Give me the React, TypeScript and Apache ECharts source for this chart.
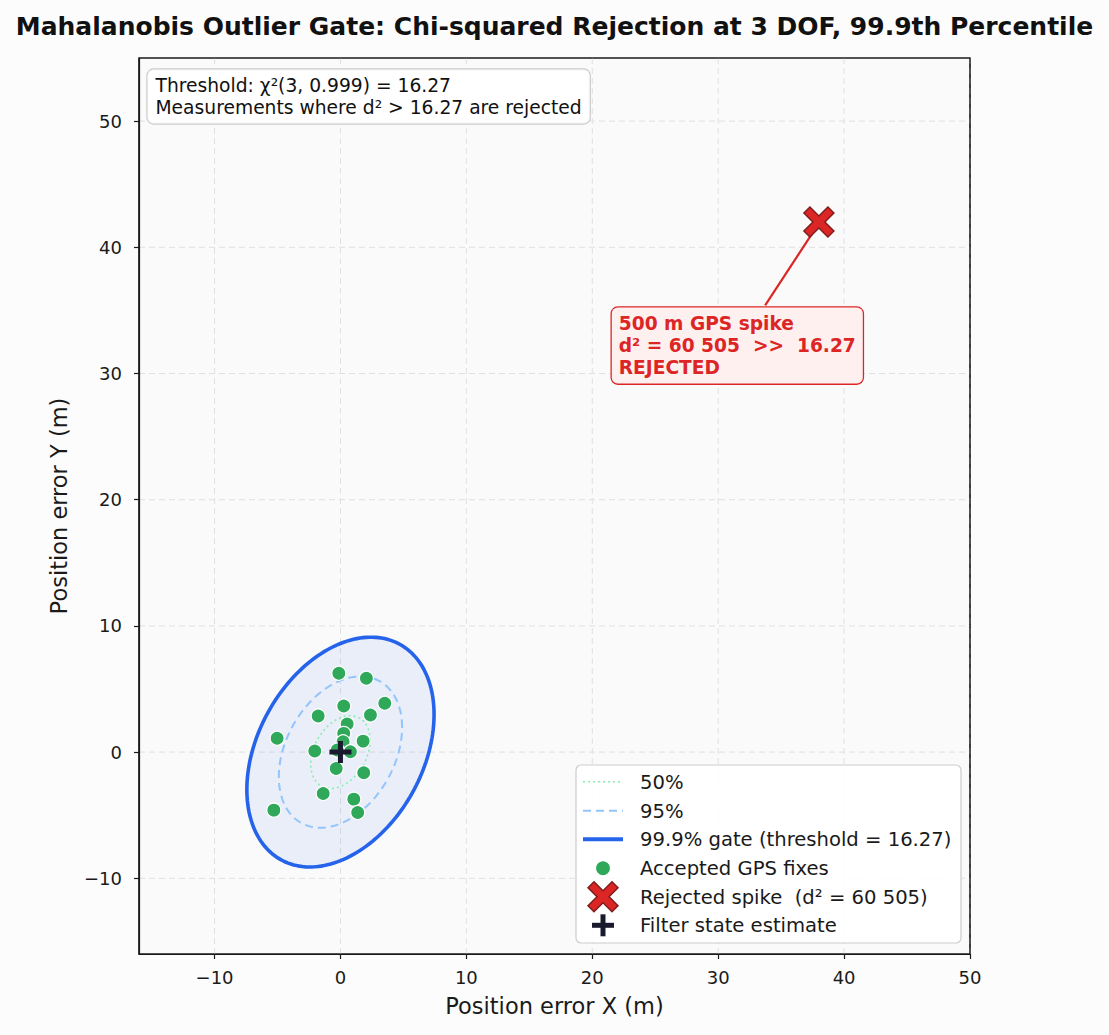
import React, { useEffect, useRef } from "react";
import * as echarts from "echarts";

const FONT = "DejaVu Sans";

const X_MIN = -16;
const X_MAX = 50;
const Y_MIN = -16;
const Y_MAX = 55;
const X_TICKS = [-10, 0, 10, 20, 30, 40, 50];
const Y_TICKS = [-10, 0, 10, 20, 30, 40, 50];

const ACCEPTED_X = [-0.13, 2.06, 3.52, 0.26, -1.77, 2.38, 0.53, -5.03, 0.26, 0.21, 1.8, -2.04, 0.79, -0.26, -0.34, 1.85, -1.37, 1.06, 1.37, -5.29];
const ACCEPTED_Y = [6.25, 5.85, 3.87, 3.65, 2.86, 2.94, 2.22, 1.09, 1.48, 0.82, 0.87, 0.08, 0.03, 0.16, -1.3, -1.64, -3.28, -3.73, -4.79, -4.6];

const SPIKE = [38, 42];
const STATE = [0, 0];

// position covariance of the filter (m^2)
const COV = [
  [4.0, 1.6],
  [1.6, 6.0],
];
// squared-distance levels used for the drawn contours: 50 %, 95 %, 99.9 %
const CONTOUR_LEVELS = [1.386, 5.991, 13.816];
const CONTOUR_NAMES = ["50%", "95%", "99.9% gate (threshold = 16.27)"];

const ARROW_FROM = [33.73, 35.4];
const ARROW_TO = [37.6, 41.3];
const ANNOT_ANCHOR = [21.55, 29.2];

const fmt = (v: number) => (v < 0 ? "\u2212" + Math.abs(v) : String(v));

function ellipsePoints(k: number): number[][] {
  const l11 = Math.sqrt(COV[0][0]);
  const l21 = COV[1][0] / l11;
  const l22 = Math.sqrt(COV[1][1] - l21 * l21);
  const s = Math.sqrt(k);
  const pts: number[][] = [];
  const n = 180;
  for (let i = 0; i <= n; i++) {
    const t = (i / n) * Math.PI * 2;
    const c = Math.cos(t);
    const sn = Math.sin(t);
    pts.push([STATE[0] + s * l11 * c, STATE[1] + s * (l21 * c + l22 * sn)]);
  }
  return pts;
}

const CONTOUR_STYLES = [
  { stroke: "#86efac", lineWidth: 1.6, lineDash: [2, 3], fill: "none" },
  { stroke: "#93c5fd", lineWidth: 2, lineDash: [8, 5], fill: "none" },
  { stroke: "#2563eb", lineWidth: 3.6, lineDash: null, fill: "rgba(37,99,235,0.08)" },
];

const X_PATH = "path://M0,2L2,0L5,3L8,0L10,2L7,5L10,8L8,10L5,7L2,10L0,8L3,5Z";
const PLUS_PATH = "path://M8.5,0H13.5V8.5H22V13.5H13.5V22H8.5V13.5H0V8.5H8.5Z";

export default function App() {
  const ref = useRef<HTMLDivElement>(null);

  useEffect(() => {
    document.body.style.margin = "0";
    const chart = echarts.init(ref.current!, null, { renderer: "svg" });

    const option: any = {
      animation: false,
      backgroundColor: "#fcfcfc",
      textStyle: { fontFamily: FONT },
      grid: {
        left: 139,
        right: 139,
        top: 58,
        bottom: 81,
        show: true,
        backgroundColor: "#fafafa",
        borderColor: "#1a1a1a",
        borderWidth: 1.2,
      },
      xAxis: {
        type: "value",
        min: X_MIN,
        max: X_MAX,
        splitLine: { show: false },
        axisLine: { show: true, onZero: false, lineStyle: { color: "#1a1a1a", width: 1.2 } },
        axisTick: { show: true, length: 5, customValues: X_TICKS, lineStyle: { color: "#1a1a1a", width: 1.2 } },
        axisLabel: { customValues: X_TICKS, formatter: fmt, fontSize: 18, color: "#1a1a1a", margin: 14, fontFamily: FONT },
      },
      yAxis: {
        type: "value",
        min: Y_MIN,
        max: Y_MAX,
        splitLine: { show: false },
        axisLine: { show: true, onZero: false, lineStyle: { color: "#1a1a1a", width: 1.2 } },
        axisTick: { show: true, length: 5, customValues: Y_TICKS, lineStyle: { color: "#1a1a1a", width: 1.2 } },
        axisLabel: { customValues: Y_TICKS, formatter: fmt, fontSize: 18, color: "#1a1a1a", margin: 17, fontFamily: FONT },
      },
      series: [
        {
          type: "custom",
          name: "xgrid",
          silent: true,
          z: 0,
          data: X_TICKS.map((v) => [v, 0]),
          renderItem: (params: any, api: any) => {
            const v = api.value(0);
            const a = api.coord([v, Y_MIN]);
            const b = api.coord([v, Y_MAX]);
            return {
              type: "line",
              shape: { x1: a[0], y1: a[1], x2: b[0], y2: b[1] },
              style: { stroke: "#e0e0e0", lineWidth: 1, lineDash: [6, 4] },
            };
          },
        },
        {
          type: "custom",
          name: "ygrid",
          silent: true,
          z: 0,
          data: Y_TICKS.map((v) => [0, v]),
          renderItem: (params: any, api: any) => {
            const v = api.value(1);
            const a = api.coord([X_MIN, v]);
            const b = api.coord([X_MAX, v]);
            return {
              type: "line",
              shape: { x1: a[0], y1: a[1], x2: b[0], y2: b[1] },
              style: { stroke: "#e0e0e0", lineWidth: 1, lineDash: [6, 4] },
            };
          },
        },
        {
          type: "custom",
          name: "contours",
          silent: true,
          z: 1,
          clip: true,
          data: [2, 1, 0].map((i) => [STATE[0], STATE[1], i]),
          renderItem: (params: any, api: any) => {
            const i = api.value(2);
            const pts = ellipsePoints(CONTOUR_LEVELS[i]).map((p) => api.coord(p));
            const st: any = CONTOUR_STYLES[i];
            return {
              type: "polygon",
              shape: { points: pts },
              style: {
                fill: st.fill === "none" ? null : st.fill,
                stroke: st.stroke,
                lineWidth: st.lineWidth,
                lineDash: st.lineDash || undefined,
              },
            };
          },
        },
        {
          type: "scatter",
          name: "Accepted GPS fixes",
          z: 3,
          symbol: "circle",
          symbolSize: 14,
          itemStyle: { color: "#2fa85a", borderColor: "#ffffff", borderWidth: 1.2, opacity: 1 },
          data: ACCEPTED_X.map((x, i) => [x, ACCEPTED_Y[i]]),
        },
        {
          type: "line",
          name: "arrow",
          z: 4,
          silent: true,
          symbol: "none",
          lineStyle: { color: "#dc2626", width: 2.2 },
          data: [ARROW_FROM, ARROW_TO],
        },
        {
          type: "scatter",
          name: "Rejected spike",
          z: 5,
          symbol: X_PATH,
          symbolSize: 30,
          itemStyle: { color: "#dc2626", borderColor: "#7f1d1d", borderWidth: 1.5, opacity: 1 },
          data: [SPIKE],
        },
        {
          type: "scatter",
          name: "Filter state estimate",
          z: 6,
          symbol: PLUS_PATH,
          symbolSize: 22,
          itemStyle: { color: "#1a1a2e", opacity: 1 },
          data: [STATE],
        },
      ],
    };

    chart.setOption(option);

    const anchor = chart.convertToPixel({ gridIndex: 0 }, ANNOT_ANCHOR) as number[];
    const tl = chart.convertToPixel({ gridIndex: 0 }, [X_MIN, Y_MAX]) as number[];
    const br = chart.convertToPixel({ gridIndex: 0 }, [X_MAX, Y_MIN]) as number[];

    const legendX = 576;
    const legendY = 765;
    const rowY = [781.7, 810.7, 839.3, 868.3, 896.7, 925.3];
    const legendLabels = [
      CONTOUR_NAMES[0],
      CONTOUR_NAMES[1],
      CONTOUR_NAMES[2],
      "Accepted GPS fixes",
      "Rejected spike  (d\u00b2 = 60 505)",
      "Filter state estimate",
    ];
    const symX = 603;
    const xs = 15;
    const xPoly = [
      [0, 2], [2, 0], [5, 3], [8, 0], [10, 2], [7, 5], [10, 8], [8, 10], [5, 7], [2, 10], [0, 8], [3, 5],
    ].map((p) => [symX - xs + p[0] * 3, rowY[4] - xs + p[1] * 3]);

    const graphic: any[] = [
      {
        type: "rect",
        z: 15,
        silent: true,
        shape: { x: tl[0], y: tl[1], width: br[0] - tl[0], height: br[1] - tl[1] },
        style: { fill: null, stroke: "#1a1a1a", lineWidth: 1.2 },
      },
      {
        type: "text",
        x: 554.5,
        y: 26,
        style: {
          text: "Mahalanobis Outlier Gate: Chi-squared Rejection at 3 DOF, 99.9th Percentile",
          font: `bold 25px ${FONT}`,
          fill: "#111111",
          textAlign: "center",
          textVerticalAlign: "middle",
        },
      },
      {
        type: "text",
        x: 554.5,
        y: 1006,
        style: {
          text: "Position error X (m)",
          font: `22.5px ${FONT}`,
          fill: "#1a1a1a",
          textAlign: "center",
          textVerticalAlign: "middle",
        },
      },
      {
        type: "text",
        x: 59,
        y: 506,
        rotation: Math.PI / 2,
        style: {
          text: "Position error Y (m)",
          font: `22.5px ${FONT}`,
          fill: "#1a1a1a",
          textAlign: "center",
          textVerticalAlign: "middle",
        },
      },
      {
        type: "text",
        x: 147.5,
        y: 69.5,
        z: 20,
        style: {
          text: "Threshold: \u03c7\u00b2(3, 0.999) = 16.27\nMeasurements where d\u00b2 > 16.27 are rejected",
          font: `18.7px ${FONT}`,
          lineHeight: 22,
          fill: "#111111",
          textAlign: "left",
          textVerticalAlign: "top",
          backgroundColor: "rgba(255,255,255,0.9)",
          borderColor: "#cccccc",
          borderWidth: 1.2,
          borderRadius: 6,
          padding: [5, 8, 5, 8],
        },
      },
      {
        type: "text",
        x: anchor[0],
        y: anchor[1],
        z: 20,
        style: {
          text: "500 m GPS spike\nd\u00b2 = 60 505  >>  16.27\nREJECTED",
          font: `bold 18.6px ${FONT}`,
          lineHeight: 22,
          fill: "#dc2626",
          textAlign: "left",
          textVerticalAlign: "bottom",
          backgroundColor: "#fff0f0",
          borderColor: "#dc2626",
          borderWidth: 1.3,
          borderRadius: 6,
          padding: [5, 7, 5, 7],
        },
      },
      {
        type: "rect",
        z: 20,
        shape: { x: legendX, y: legendY, width: 385, height: 178, r: 5 },
        style: { fill: "rgba(255,255,255,0.88)", stroke: "#cccccc", lineWidth: 1.2 },
      },
      {
        type: "line",
        z: 21,
        shape: { x1: 583, y1: rowY[0], x2: 623, y2: rowY[0] },
        style: { stroke: "#86efac", lineWidth: 1.6, lineDash: [2, 3] },
      },
      {
        type: "line",
        z: 21,
        shape: { x1: 583, y1: rowY[1], x2: 623, y2: rowY[1] },
        style: { stroke: "#93c5fd", lineWidth: 2, lineDash: [8, 5] },
      },
      {
        type: "line",
        z: 21,
        shape: { x1: 583, y1: rowY[2], x2: 623, y2: rowY[2] },
        style: { stroke: "#2563eb", lineWidth: 4 },
      },
      {
        type: "circle",
        z: 21,
        shape: { cx: symX, cy: rowY[3], r: 7.5 },
        style: { fill: "#2fa85a", stroke: "#ffffff", lineWidth: 1.2 },
      },
      {
        type: "polygon",
        z: 21,
        shape: { points: xPoly },
        style: { fill: "#dc2626", stroke: "#7f1d1d", lineWidth: 1.5 },
      },
      {
        type: "rect",
        z: 21,
        shape: { x: symX - 2.5, y: rowY[5] - 11, width: 5, height: 22 },
        style: { fill: "#1a1a2e" },
      },
      {
        type: "rect",
        z: 21,
        shape: { x: symX - 11, y: rowY[5] - 2.5, width: 22, height: 5 },
        style: { fill: "#1a1a2e" },
      },
      ...legendLabels.map((t, i) => ({
        type: "text",
        z: 21,
        x: 640,
        y: rowY[i] + 0.5,
        style: {
          text: t,
          font: `19.6px ${FONT}`,
          fill: "#1a1a1a",
          textAlign: "left",
          textVerticalAlign: "middle",
        },
      })),
    ];

    chart.setOption({ graphic });

    return () => chart.dispose();
  }, []);

  return (
    <div
      ref={ref}
      style={{ position: "absolute", left: 0, top: 0, width: 1109, height: 1035 }}
    />
  );
}
